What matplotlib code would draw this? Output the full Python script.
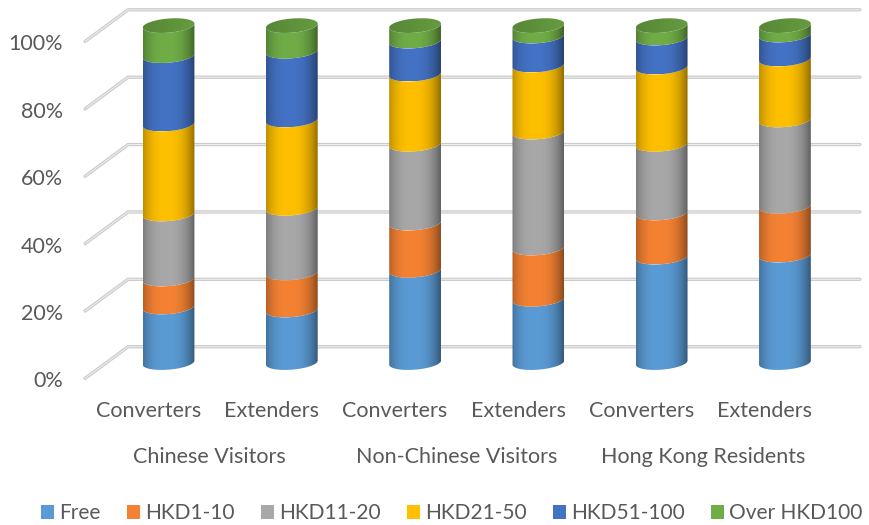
import numpy as np
import matplotlib
matplotlib.use('Agg')
import matplotlib.pyplot as plt
from matplotlib.patches import Polygon, Patch

plt.rcParams['font.family'] = ['Lato', 'DejaVu Sans']

bands = ['Free', 'HKD1-10', 'HKD11-20', 'HKD21-50', 'HKD51-100', 'Over HKD100']
band_colors = ['#5b9bd5', '#f58233', '#a8a8a8', '#ffc000', '#4472c4', '#70ad47']
bar_labels = ['Converters', 'Extenders'] * 3
groups = ['Chinese Visitors', 'Non-Chinese Visitors', 'Hong Kong Residents']
ticks = [0, 20, 40, 60, 80, 100]

free = [16.5, 15.6, 27.4, 18.8, 31.3, 31.9]
hkd1_10 = [8.3, 11.0, 14.0, 15.2, 13.1, 14.5]
hkd11_20 = [19.3, 19.2, 23.4, 34.4, 20.4, 25.6]
hkd21_50 = [26.7, 26.2, 20.8, 19.9, 22.9, 18.1]
hkd51_100 = [20.3, 20.4, 9.8, 8.6, 8.6, 7.1]
over_100 = [8.9, 7.6, 4.6, 3.1, 3.7, 2.8]

BAR_HALF = 0.21   # cylinder half width, category units
ELL_H = 2.1       # ellipse half height, percent units
TILT = 0.6        # rise of the ellipse towards the right
DEPTH = 4.7       # half the floor depth, percent units
FLOOR_X = (-0.677, -0.328, 5.608)
LABEL_SHIFT = -0.165  # axis text sits on the front plane, left of the bars
TEXT = '#595959'
FONT = 15.5


def arc(xc, v, start, stop):
    t = np.linspace(start, stop, 60)
    x = xc + BAR_HALF * np.cos(t)
    y = v + ELL_H * np.sin(t) + TILT * np.cos(t)
    return np.column_stack([x, y])


def shaded_fill(ax, verts, xc, color, reverse=False):
    # horizontal shading so the stack reads as a round cylinder
    u = np.linspace(-1, 1, 200)
    shade = 1 - 0.34 * np.abs(u + 0.1) ** 2.6
    if reverse:
        shade = 0.84 + 0.06 * u
    rgb = np.array(matplotlib.colors.to_rgb(color))
    img = np.clip(shade[None, :, None] * rgb[None, None, :], 0, 1)
    patch = Polygon(verts, closed=True, transform=ax.transData, facecolor='none', edgecolor='none')
    ax.add_patch(patch)
    ys = verts[:, 1]
    im = ax.imshow(img, extent=(xc - BAR_HALF, xc + BAR_HALF, ys.min(), ys.max()),
                   aspect='auto', zorder=3, interpolation='bilinear')
    im.set_clip_path(patch)


fig = plt.figure(figsize=(8.7, 5.25), dpi=100)
ax = fig.add_axes([0, 0, 1, 1])

# back wall and floor lines, one per tick
for t in ticks:
    xs = list(FLOOR_X)
    ys = [t - DEPTH, t + DEPTH, t + DEPTH]
    ax.plot(xs, ys, color='#cbcbcb', lw=2.4, zorder=1, solid_joinstyle='round', solid_capstyle='round')
    ax.plot(xs, ys, color='#ececec', lw=0.8, zorder=1.1, solid_joinstyle='round', solid_capstyle='round')
    ax.text(-0.856, t - DEPTH - 0.9, '%d%%' % t, ha='right', va='center', fontsize=FONT, color=TEXT)

values = np.array([free, hkd1_10, hkd11_20, hkd21_50, hkd51_100, over_100])
tops = np.cumsum(values, axis=0)

for i in range(values.shape[1]):
    lower = 0.0
    for b in range(len(bands)):
        upper = tops[b, i]
        verts = np.vstack([arc(i, lower, np.pi, 2 * np.pi), arc(i, upper, 2 * np.pi, np.pi)])
        shaded_fill(ax, verts, i, band_colors[b])
        lower = upper
    cap = arc(i, tops[-1, i], 0, 2 * np.pi)
    shaded_fill(ax, cap, i, band_colors[-1], reverse=True)
    ax.text(i + LABEL_SHIFT, -14.5, bar_labels[i], ha='center', va='center', fontsize=FONT, color=TEXT)

for g, name in enumerate(groups):
    ax.text(2 * g + 0.5 + LABEL_SHIFT, -27.9, name, ha='center', va='center', fontsize=FONT, color=TEXT)

handles = [Patch(facecolor=c, edgecolor='none') for c in band_colors]
ax.legend(handles, bands, loc='center', bbox_to_anchor=(0.5195, 0.022), ncols=6, frameon=False,
          fontsize=15, labelcolor=TEXT, handlelength=0.62, handleheight=0.62, handletextpad=0.24,
          columnspacing=1.27, borderpad=0)

ax.set_xlim(-1.367, 5.69)
ax.set_ylim(-48.2, 107.6)
ax.axis('off')

fig.savefig('out.png', dpi=100)
